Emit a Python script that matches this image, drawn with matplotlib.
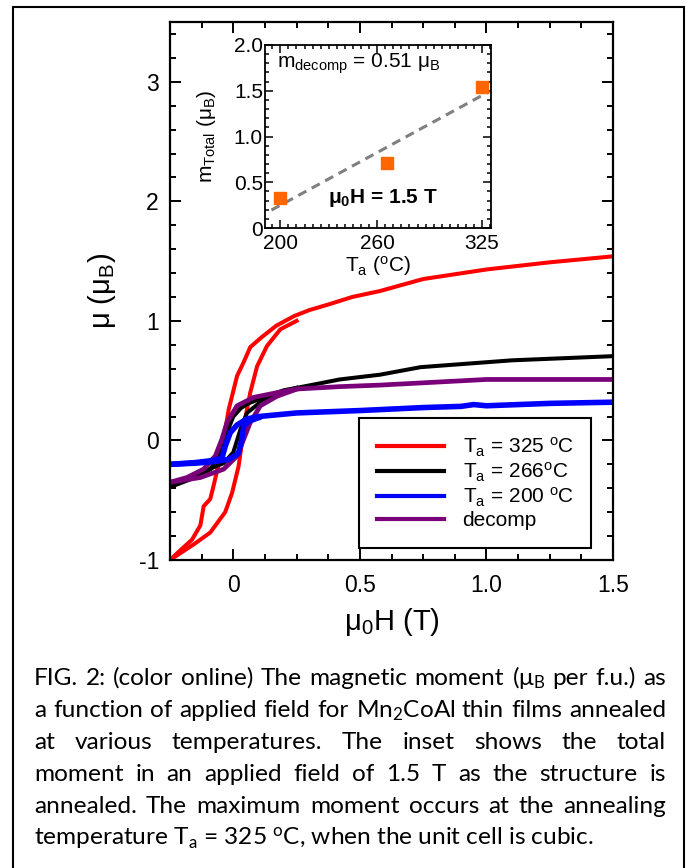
import numpy as np
import matplotlib.pyplot as plt
from matplotlib.ticker import MultipleLocator, FixedLocator
from matplotlib.patches import Rectangle

plt.rcParams['font.family'] = ['Liberation Sans', 'DejaVu Sans']
plt.rcParams['mathtext.default'] = 'regular'
plt.rcParams['axes.unicode_minus'] = False

# ---- data ----
# Ta = 325 C: field sweep down, then back up
h325_down = [1.5, 1.25, 1.0, 0.75, 0.58, 0.47, 0.38, 0.3, 0.24, 0.17, 0.11, 0.067,
             0.04, 0.015, -0.018, -0.038, -0.058, -0.078, -0.091, -0.117, -0.13,
             -0.163, -0.21, -0.25]
m325_down = [1.54, 1.49, 1.43, 1.35, 1.25, 1.2, 1.14, 1.09, 1.04, 0.96, 0.86, 0.78,
             0.65, 0.54, 0.26, 0.01, -0.2, -0.38, -0.49, -0.55, -0.71,
             -0.83, -0.92, -1.0]
h325_up = [-0.25, -0.2, -0.15, -0.091, -0.032, -0.005, 0.021, 0.034, 0.047, 0.067,
           0.094, 0.133, 0.186, 0.25]
m325_up = [-1.0, -0.93, -0.86, -0.77, -0.60, -0.44, -0.215, -0.02, 0.18, 0.40,
           0.62, 0.79, 0.93, 1.0]

# Ta = 266 C
h266_down = [1.5, 1.1, 0.74, 0.58, 0.42, 0.3, 0.2, 0.12, 0.06, 0.03, 0.0, -0.025,
             -0.051, -0.09, -0.15, -0.2, -0.25]
m266_down = [0.705, 0.67, 0.613, 0.55, 0.51, 0.46, 0.42, 0.36, 0.31, 0.27, 0.2, 0.065,
             -0.10, -0.24, -0.31, -0.35, -0.39]
h266_up = [-0.25, -0.13, -0.038, 0.0, 0.028, 0.054, 0.107, 0.173, 0.25]
m266_up = [-0.39, -0.27, -0.19, -0.10, 0.09, 0.23, 0.32, 0.385, 0.44]

# Ta = 200 C
h200_down = [1.5, 1.25, 1.0, 0.95, 0.9, 0.75, 0.5, 0.25, 0.1, 0.054, 0.015, -0.012,
             -0.032, -0.045, -0.09, -0.15, -0.25]
m200_down = [0.32, 0.31, 0.29, 0.30, 0.285, 0.275, 0.25, 0.23, 0.20, 0.18, 0.13, 0.065,
             -0.05, -0.15, -0.17, -0.185, -0.20]
h200_up = [-0.25, -0.15, -0.09, -0.02, 0.02, 0.034, 0.041, 0.06, 0.1]
m200_up = [-0.20, -0.19, -0.18, -0.16, -0.11, 0.01, 0.12, 0.16, 0.19]

# decomposed
hdec_down = [1.5, 1.0, 0.58, 0.42, 0.25, 0.173, 0.08, 0.015, -0.025, -0.045, -0.071,
             -0.117, -0.183, -0.25]
mdec_down = [0.51, 0.51, 0.463, 0.45, 0.43, 0.40, 0.36, 0.29, 0.15, 0.01, -0.13,
             -0.24, -0.31, -0.35]
hdec_up = [-0.25, -0.13, -0.038, 0.015, 0.041, 0.067, 0.107, 0.173, 0.252]
mdec_up = [-0.35, -0.31, -0.24, -0.13, 0.01, 0.15, 0.29, 0.37, 0.43]

# inset: total moment at 1.5 T vs anneal temperature
anneal_T = [200, 266, 325]
m_total = [0.33, 0.71, 1.54]

legend_labels = ["T$_a$ = 325 $^o$C", "T$_a$ = 266$^o$C", "T$_a$ = 200 $^o$C", "decomp"]

caption = [
    "FIG. 2: (color online) The magnetic moment (μ$_B$ per f.u.) as",
    "a function of applied field for Mn$_2$CoAl thin films annealed",
    "at various temperatures. The inset shows the total",
    "moment in an applied field of 1.5 T as the structure is",
    "annealed. The maximum moment occurs at the annealing",
    "temperature T$_a$ = 325 $^o$C, when the unit cell is cubic.",
]

W, H = 687, 868
fig = plt.figure(figsize=(W / 100, H / 100), dpi=100)

# outer frame
fig.add_artist(Rectangle((13 / W, -0.01), (684 - 13) / W, 1.01 - 7 / H,
                         transform=fig.transFigure, fill=False, ec='black', lw=1.5))

ax = fig.add_axes([170 / W, 1 - 560 / H, 443 / W, 538 / H])
lw = 2.9
ax.plot(h325_down, m325_down, color='red', lw=lw)
ax.plot(h325_up, m325_up, color='red', lw=lw)
ax.plot(h266_down, m266_down, color='black', lw=lw)
ax.plot(h266_up, m266_up, color='black', lw=lw)
ax.plot(hdec_down, mdec_down, color='#7a007a', lw=3.4)
ax.plot(hdec_up, mdec_up, color='#7a007a', lw=3.4)
ax.plot(h200_down, m200_down, color='blue', lw=4)
ax.plot(h200_up, m200_up, color='blue', lw=4)

ax.set_xlim(-0.25, 1.5)
ax.set_ylim(-1, 3.5)
ax.xaxis.set_major_locator(FixedLocator([0, 0.5, 1.0, 1.5]))
ax.xaxis.set_minor_locator(MultipleLocator(0.125))
ax.set_xticklabels(['0', '0.5', '1.0', '1.5'])
ax.yaxis.set_major_locator(FixedLocator([-1, 0, 1, 2, 3]))
ax.yaxis.set_minor_locator(MultipleLocator(0.2))
ax.tick_params(which='both', direction='in', top=True, right=True, width=1.4)
ax.tick_params(which='major', length=8, labelsize=16.5)
ax.tick_params(which='minor', length=4)
ax.tick_params(axis='y', pad=8)
ax.tick_params(axis='x', pad=10)
for s in ax.spines.values():
    s.set_linewidth(1.6)

ax.set_ylabel("μ (μ$_B$)", fontsize=21)
ax.yaxis.set_label_coords(-0.118, 0.5)
ax.set_xlabel("μ$_0$H (T)", fontsize=21)
ax.xaxis.set_label_coords(0.5, -0.085)

handles = [plt.Line2D([], [], color=c, lw=3) for c in ['red', 'black', 'blue', '#7a007a']]
leg = ax.legend(handles, legend_labels, loc='lower right', bbox_to_anchor=(0.951, 0.022),
                borderaxespad=0, fontsize=15, frameon=True, fancybox=False,
                edgecolor='black', framealpha=1, handlelength=3.2, handletextpad=0.9,
                labelspacing=0.1, borderpad=0.85)
leg.get_frame().set_linewidth(1.5)

# inset
ax_in = fig.add_axes([265 / W, 1 - 228 / H, 226 / W, 183 / H])
fit = np.polyfit(anneal_T, m_total, 1)
tt = np.array([194.5, 329.5])
ax_in.plot(tt, np.polyval(fit, tt), ls=(0, (3, 2)), color='#808080', lw=2.2)
ax_in.plot(anneal_T, m_total, 's', color='#ff6600', ms=8.5, mec='#ff6600')
ax_in.set_xlim(190.5, 330.5)
ax_in.set_ylim(0, 2.0)
ax_in.xaxis.set_major_locator(FixedLocator([200, 260, 325]))
ax_in.xaxis.set_minor_locator(MultipleLocator(5))
ax_in.yaxis.set_major_locator(FixedLocator([0, 0.5, 1.0, 1.5, 2.0]))
ax_in.set_yticklabels(['0', '0.5', '1.0', '1.5', '2.0'])
ax_in.yaxis.set_minor_locator(MultipleLocator(0.1))
ax_in.tick_params(which='both', direction='in', top=True, right=True, width=1.1)
ax_in.tick_params(which='major', length=6, labelsize=15)
ax_in.tick_params(which='minor', length=3)
ax_in.tick_params(axis='y', pad=1.5)
ax_in.tick_params(axis='x', pad=4)
for s in ax_in.spines.values():
    s.set_linewidth(1.3)
ax_in.set_xlabel("T$_a$ ($^o$C)", fontsize=15)
ax_in.xaxis.set_label_coords(0.5, -0.14)
ax_in.set_ylabel("m$_{Total}$ (μ$_B$)", fontsize=15)
ax_in.yaxis.set_label_coords(-0.21, 0.5)
ax_in.text(0.053, 0.874, "m$_{decomp}$ = 0.51 μ$_B$", transform=ax_in.transAxes,
           fontsize=15, va='baseline')
ax_in.text(0.279, 0.137, "μ$_0$H = 1.5 T", transform=ax_in.transAxes,
           fontsize=15, fontweight='bold', va='baseline')

# caption, justified like the paper
cap_font = ['Lato', 'DejaVu Sans']
fig.canvas.draw()
rend = fig.canvas.get_renderer()


def text_width(s, fs):
    t = fig.text(0, 0, s, fontsize=fs, family=cap_font)
    w = t.get_window_extent(rend).width
    t.remove()
    return w


x0, x1 = 34, 666
fs = 16 * 560 / text_width(caption[-1], 16)
baselines = [685, 717, 749, 781, 813, 845]
for line, yb in zip(caption, baselines):
    yf = 1 - yb / H
    if line is caption[-1]:
        fig.text(x0 / W, yf, line, fontsize=fs, family=cap_font, va='baseline')
        continue
    words = line.split(' ')
    widths = [text_width(w, fs) for w in words]
    gap = (x1 - x0 - sum(widths)) / (len(words) - 1)
    x = x0
    for w, wd in zip(words, widths):
        fig.text(x / W, yf, w, fontsize=fs, family=cap_font, va='baseline')
        x += wd + gap

fig.savefig('out.png', dpi=100)
